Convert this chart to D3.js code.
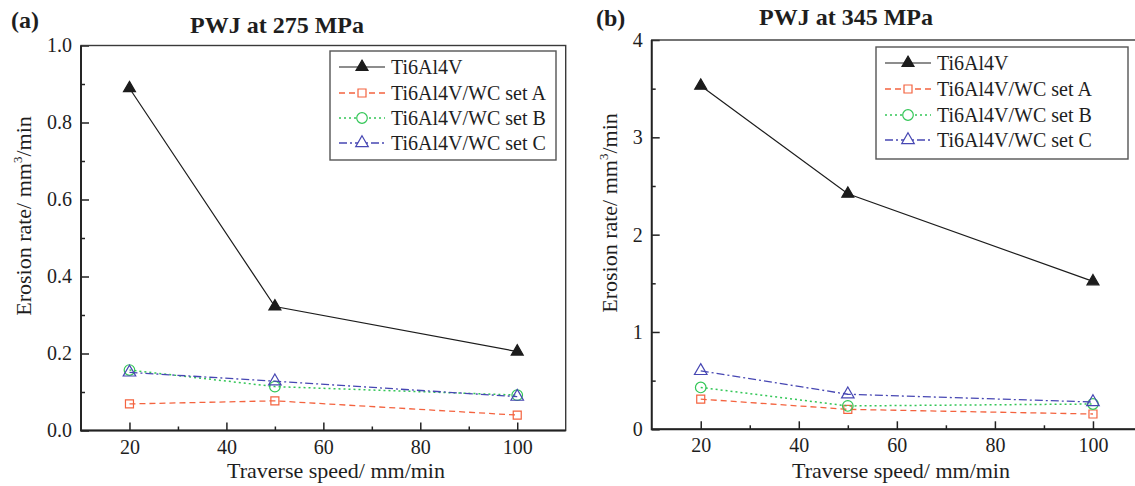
<!DOCTYPE html>
<html>
<head>
<meta charset="utf-8">
<script src="https://cdn.jsdelivr.net/npm/d3@7"></script>
<style>
  body { margin: 0; background: #fff; }
  svg text { font-family: "Liberation Serif", "Times New Roman", serif; fill: #1e1e1e; }
</style>
</head>
<body>
<div id="chart"></div>
<script>
// traverse speeds (mm/min)
var speeds = [20, 50, 100];
var seriesNames = ["Ti6Al4V", "Ti6Al4V/WC set A", "Ti6Al4V/WC set B", "Ti6Al4V/WC set C"];

// erosion rate at 275 MPa (mm3/min)
var ti275 = [0.889, 0.322, 0.205];
var setA275 = [0.069, 0.077, 0.040];
var setB275 = [0.157, 0.114, 0.092];
var setC275 = [0.151, 0.128, 0.088];

// erosion rate at 345 MPa (mm3/min)
var ti345 = [3.53, 2.42, 1.52];
var setA345 = [0.31, 0.205, 0.157];
var setB345 = [0.43, 0.24, 0.26];
var setC345 = [0.60, 0.36, 0.28];

var xTicks = [20, 40, 60, 80, 100];
var xMinor = [30, 50, 70, 90];
var yTicks275 = [0, 0.2, 0.4, 0.6, 0.8, 1.0];
var yMinor275 = [0.1, 0.3, 0.5, 0.7, 0.9];
var yTicks345 = [0, 1, 2, 3, 4];
var yMinor345 = [0.5, 1.5, 2.5, 3.5];

var width = 1135, height = 486;

var svg = d3.select("#chart")
  .append("svg")
  .attr("width", width)
  .attr("height", height);

// look of each series: colour, dash, marker
var styles = [
  { color: "#1c1c1c", dash: null, symbol: d3.symbolTriangle, size: 62, fill: true, width: 1.2 },
  { color: "#f4633f", dash: "6,4", symbol: d3.symbolSquare, size: 64, fill: false, width: 1.3 },
  { color: "#33c657", dash: "2,3", symbol: d3.symbolCircle, size: 88, fill: false, width: 1.5 },
  { color: "#4747b3", dash: "8,3,2,3", symbol: d3.symbolTriangle, size: 68, fill: false, width: 1.3 }
];

function drawPanel(p) {
  var X = d3.scaleLinear().domain([10, 110]).range([p.left, p.right]);
  var Y = d3.scaleLinear().domain(p.yDomain).range([p.bottom, p.top]);

  var g = svg.append("g");

  // minor ticks
  g.append("g")
    .attr("transform", "translate(0," + p.bottom + ")")
    .call(d3.axisBottom(X).tickValues(xMinor).tickSize(-4).tickSizeOuter(0).tickFormat(""))
    .call(function(s) { s.select(".domain").remove(); });
  g.append("g")
    .attr("transform", "translate(" + p.left + ",0)")
    .call(d3.axisLeft(Y).tickValues(p.yMinor).tickSize(-4).tickSizeOuter(0).tickFormat(""))
    .call(function(s) { s.select(".domain").remove(); });

  // major ticks with labels
  var xa = g.append("g")
    .attr("transform", "translate(0," + p.bottom + ")")
    .call(d3.axisBottom(X).tickValues(xTicks).tickSize(-8).tickSizeOuter(0).tickPadding(9));
  var ya = g.append("g")
    .attr("transform", "translate(" + p.left + ",0)")
    .call(d3.axisLeft(Y).tickValues(p.yTicks).tickSize(-8).tickSizeOuter(0).tickPadding(9)
      .tickFormat(p.yFormat));

  [xa, ya].forEach(function(a) {
    a.select(".domain").remove();
    a.selectAll("text").attr("font-size", 20).attr("font-family", "Liberation Serif");
  });
  g.selectAll(".tick line").attr("stroke", "#222").attr("stroke-width", 1.5);

  // frame
  g.append("rect")
    .attr("x", p.left).attr("y", p.top)
    .attr("width", p.right - p.left).attr("height", p.bottom - p.top)
    .attr("fill", "none").attr("stroke", "#3a3a3a").attr("stroke-width", 1.4);
  g.append("path")
    .attr("d", "M" + p.left + "," + p.top + "V" + p.bottom + "H" + p.right)
    .attr("fill", "none").attr("stroke", "#222").attr("stroke-width", 1.9);

  // series
  var line = d3.line()
    .x(function(d, i) { return X(speeds[i]); })
    .y(function(d) { return Y(d); });

  p.series.forEach(function(vals, k) {
    var st = styles[k];
    g.append("path")
      .datum(vals)
      .attr("d", line)
      .attr("fill", "none")
      .attr("stroke", st.color)
      .attr("stroke-width", st.width)
      .attr("stroke-dasharray", st.dash);
    g.selectAll(".m" + k)
      .data(vals)
      .enter()
      .append("path")
      .attr("transform", function(d, i) { return "translate(" + X(speeds[i]) + "," + Y(d) + ")"; })
      .attr("d", d3.symbol().type(st.symbol).size(st.size))
      .attr("fill", st.fill ? st.color : "none")
      .attr("stroke", st.color)
      .attr("stroke-width", 1.2);
  });

  // legend
  var lg = g.append("g");
  lg.append("rect")
    .attr("x", p.legX).attr("y", p.legY)
    .attr("width", p.legW).attr("height", p.legH)
    .attr("fill", "#fff").attr("stroke", "#555").attr("stroke-width", 1.4);
  seriesNames.forEach(function(name, k) {
    var st = styles[k];
    var cy = p.legRows[k];
    var lx = p.legX + 9;
    lg.append("line")
      .attr("x1", lx).attr("x2", lx + 46)
      .attr("y1", cy).attr("y2", cy)
      .attr("stroke", st.color).attr("stroke-width", st.width)
      .attr("stroke-dasharray", st.dash);
    lg.append("path")
      .attr("transform", "translate(" + (lx + 23) + "," + cy + ")")
      .attr("d", d3.symbol().type(st.symbol).size(st.size))
      .attr("fill", st.fill ? st.color : "#fff")
      .attr("stroke", st.color).attr("stroke-width", 1.2);
    lg.append("text")
      .attr("x", lx + 52).attr("y", cy + 7)
      .attr("font-size", 20)
      .text(name);
  });

  // axis titles
  svg.append("text")
    .attr("x", p.xLabelX).attr("y", 478)
    .attr("text-anchor", "middle")
    .attr("font-size", 22)
    .text("Traverse speed/ mm/min");

  var yl = svg.append("text")
    .attr("transform", "translate(" + p.yLabelX + "," + p.yLabelY + ")rotate(-90)")
    .attr("text-anchor", "middle")
    .attr("font-size", 22);
  yl.append("tspan").text("Erosion rate/ mm");
  yl.append("tspan").attr("font-size", 13).attr("dy", -9).text("3");
  yl.append("tspan").attr("dy", 9).text("/min");

  // panel title and letter
  svg.append("text")
    .attr("x", p.titleX).attr("y", p.titleY)
    .attr("text-anchor", "middle")
    .attr("font-size", 24).attr("font-weight", "bold")
    .text(p.title);
  svg.append("text")
    .attr("x", p.letterX).attr("y", p.letterY)
    .attr("font-size", 24).attr("font-weight", "bold")
    .text(p.letter);
}

drawPanel({
  left: 81, right: 565.7, top: 45.5, bottom: 430.5,
  yDomain: [0, 1], yTicks: yTicks275, yMinor: yMinor275, yFormat: d3.format(".1f"),
  series: [ti275, setA275, setB275, setC275],
  legX: 330, legY: 51, legW: 226, legH: 109, legRows: [67, 93, 118, 143],
  xLabelX: 336, yLabelX: 31, yLabelY: 216,
  title: "PWJ at 275 MPa", titleX: 277, titleY: 33,
  letter: "(a)", letterX: 11, letterY: 28
});

drawPanel({
  left: 651.7, right: 1142, top: 40, bottom: 429.3,
  yDomain: [0, 4], yTicks: yTicks345, yMinor: yMinor345, yFormat: d3.format("d"),
  series: [ti345, setA345, setB345, setC345],
  legX: 876, legY: 47, legW: 252, legH: 112, legRows: [63, 89, 115, 140],
  xLabelX: 901, yLabelX: 617, yLabelY: 213,
  title: "PWJ at 345 MPa", titleX: 846, titleY: 25,
  letter: "(b)", letterX: 596, letterY: 26
});
</script>
</body>
</html>
